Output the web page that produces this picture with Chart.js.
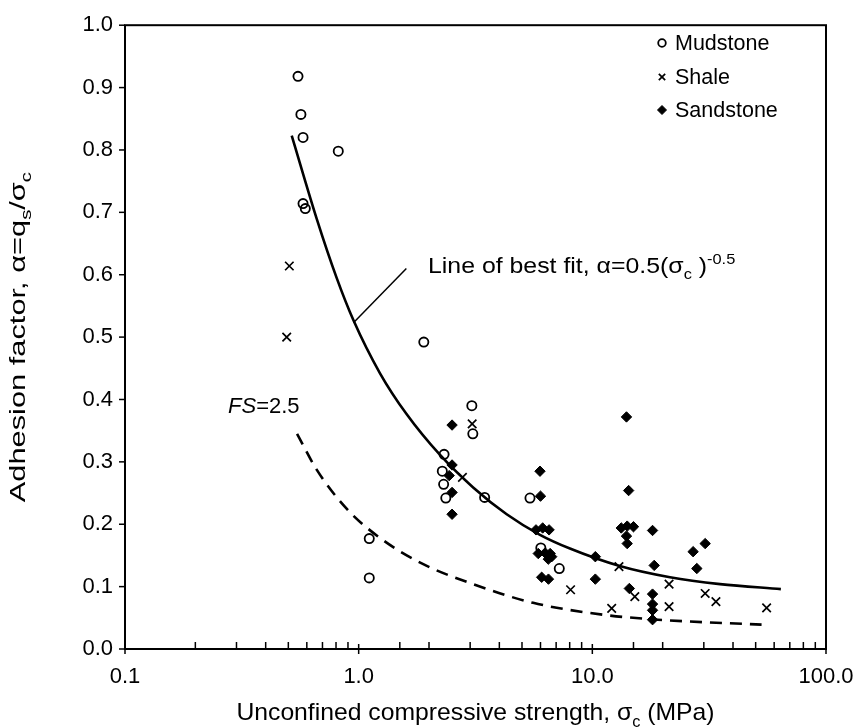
<!DOCTYPE html>
<html>
<head>
<meta charset="utf-8">
<script src="https://cdn.jsdelivr.net/npm/chart.js@4.4.1/dist/chart.umd.min.js"></script>
<style>
    html, body { margin: 0; padding: 0; background: #fff; }
</style>
</head>
<body>
<canvas id="chart" width="859" height="727"></canvas>
<script>
// values
const mudstoneX = [0.55, 0.566, 0.578, 0.818, 0.578, 0.591, 1.90, 3.05, 3.08, 2.32, 2.28, 2.31, 2.36, 3.46, 5.41, 1.11, 1.11, 6.02, 7.22]
const mudstoneY = [0.918, 0.857, 0.820, 0.798, 0.714, 0.706, 0.492, 0.390, 0.345, 0.312, 0.285, 0.264, 0.242, 0.243, 0.242, 0.177, 0.114, 0.162, 0.129]

const shaleX = [0.505, 0.492, 3.06, 2.78, 8.07, 13.0, 15.2, 12.1, 21.3, 21.3, 30.4, 33.8, 55.7]
const shaleY = [0.614, 0.500, 0.361, 0.275, 0.095, 0.132, 0.084, 0.065, 0.104, 0.068, 0.089, 0.076, 0.066]

const sandstoneX = [2.51, 2.51, 2.44, 2.51, 2.51, 5.97, 6.0, 5.74, 6.13, 6.53, 5.87, 6.28, 6.6, 6.48, 6.7, 6.07, 6.49,
    10.3, 10.3, 14.0, 14.3, 13.3, 14.1, 15.0, 14.0, 14.1, 18.1, 18.4, 14.4, 18.1, 18.1, 18.1, 18.1, 27.0, 30.4, 28.0]
const sandstoneY = [0.359, 0.295, 0.278, 0.251, 0.216, 0.285, 0.245, 0.191, 0.194, 0.191, 0.153, 0.154, 0.153, 0.144, 0.148, 0.115, 0.112,
    0.148, 0.112, 0.372, 0.254, 0.194, 0.197, 0.196, 0.181, 0.169, 0.190, 0.134, 0.097, 0.088, 0.072, 0.062, 0.047, 0.156, 0.169, 0.129]

// best fit curve and FS=2.5 curve
const fitX = [0.517, 0.661, 0.805, 0.95, 1.234, 1.60, 2.23, 3.09, 4.30, 5.97, 8.02, 13.1, 21.5, 35.2, 64.1]
const fitY = [0.823, 0.690, 0.595, 0.527, 0.442, 0.377, 0.311, 0.259, 0.216, 0.183, 0.161, 0.133, 0.115, 0.104, 0.096]

const fsX = [0.545, 0.66, 0.888, 1.234, 1.89, 3.09, 5.58, 11.1, 19.1, 53]
const fsY = [0.345, 0.288, 0.225, 0.178, 0.136, 0.104, 0.074, 0.055, 0.047, 0.039]

const xTickValues = [0.1, 1, 10, 100]
const xTickLabels = ['0.1', '1.0', '10.0', '100.0']

const FONT = '"Liberation Sans", Arial, sans-serif'

function points(xs, ys) {
    return xs.map((x, i) => ({ x: x, y: ys[i] }))
}

// text with subscripts / superscripts / italics, drawn piece by piece
function fontFor(mode, size) {
    if (mode === 'sub' || mode === 'sup') return `${size * 0.66}px ${FONT}`
    if (mode === 'it') return `italic ${size}px ${FONT}`
    return `${size}px ${FONT}`
}
function richWidth(ctx, parts, size) {
    let w = 0
    for (const [t, mode] of parts) {
        ctx.font = fontFor(mode, size)
        w += ctx.measureText(t).width
    }
    return w
}
function drawRich(ctx, parts, x, y, size) {
    let cx = x
    for (const [t, mode] of parts) {
        ctx.font = fontFor(mode, size)
        let dy = 0
        if (mode === 'sub') dy = size * 0.28
        if (mode === 'sup') dy = -size * 0.42
        ctx.fillText(t, cx, y + dy)
        cx += ctx.measureText(t).width
    }
}

const xTitle = [['Unconfined compressive strength, σ', ''], ['c', 'sub'], [' (MPa)', '']]
const yTitle = [['Adhesion factor, α=q', ''], ['s', 'sub'], ['/σ', ''], ['c', 'sub']]
const fitLabel = [['Line of best fit, α=0.5(σ', ''], ['c', 'sub'], [' )', ''], ['-0.5', 'sup']]
const fsLabel = [['FS', 'it'], ['=2.5', '']]

const legendItems = [
    { label: 'Mudstone', style: 'circle', radius: 3.8 },
    { label: 'Shale', style: 'crossRot', radius: 4.5 },
    { label: 'Sandstone', style: 'rectRot', radius: 4.5 },
]

const decorations = {
    id: 'decorations',
    afterDraw(chart) {
        const { ctx, chartArea: a, scales: { x, y } } = chart
        ctx.save()
        ctx.strokeStyle = '#000'
        ctx.fillStyle = '#000'

        // frame
        ctx.lineWidth = 2
        ctx.strokeRect(a.left, a.top, a.right - a.left, a.bottom - a.top)

        // x ticks: decades cross the axis, minor ticks inside
        ctx.lineWidth = 1.5
        for (const t of x.ticks) {
            const px = x.getPixelForValue(t.value)
            const major = xTickValues.some(v => Math.abs(v - t.value) < 1e-9)
            ctx.beginPath()
            if (major) {
                ctx.moveTo(px, a.bottom - 5)
                ctx.lineTo(px, a.bottom + 5)
            } else {
                ctx.moveTo(px, a.bottom - 7)
                ctx.lineTo(px, a.bottom)
            }
            ctx.stroke()
        }
        // y ticks outside
        for (const t of y.ticks) {
            const py = y.getPixelForValue(t.value)
            ctx.beginPath()
            ctx.moveTo(a.left - 6, py)
            ctx.lineTo(a.left, py)
            ctx.stroke()
        }

        // axis titles
        ctx.textBaseline = 'alphabetic'
        const tw = richWidth(ctx, xTitle, 24)
        ctx.save()
        ctx.translate((a.left + a.right) / 2, 720)
        ctx.scale(1.03, 1)
        drawRich(ctx, xTitle, -tw / 2, 0, 24)
        ctx.restore()

        ctx.save()
        ctx.translate(25, (a.top + a.bottom) / 2)
        ctx.rotate(-Math.PI / 2)
        ctx.scale(1.4, 1)
        const yw = richWidth(ctx, yTitle, 22)
        drawRich(ctx, yTitle, -yw / 2, 0, 22)
        ctx.restore()

        // annotation for the fit line
        ctx.lineWidth = 1.5
        ctx.beginPath()
        ctx.moveTo(x.getPixelForValue(0.95), y.getPixelForValue(0.523))
        ctx.lineTo(x.getPixelForValue(1.6), y.getPixelForValue(0.61))
        ctx.stroke()
        ctx.save()
        ctx.translate(x.getPixelForValue(1.98), y.getPixelForValue(0.603))
        ctx.scale(1.13, 1)
        drawRich(ctx, fitLabel, 0, 0, 22)
        ctx.restore()
        drawRich(ctx, fsLabel, x.getPixelForValue(0.276), y.getPixelForValue(0.378), 22)

        // legend
        const lx = 662, ly = [43, 77, 110]
        legendItems.forEach((item, i) => {
            const ds = chart.data.datasets[i]
            ctx.fillStyle = item.style === 'circle' ? '#fff' : '#000'
            ctx.strokeStyle = '#000'
            ctx.lineWidth = ds.borderWidth
            Chart.helpers.drawPoint(ctx, {
                pointStyle: item.style,
                radius: item.radius,
                borderWidth: ds.borderWidth,
                rotation: 0,
            }, lx, ly[i])
            ctx.fillStyle = '#000'
            ctx.font = `21.5px ${FONT}`
            ctx.textBaseline = 'middle'
            ctx.fillText(item.label, 675, ly[i] + 1)
        })
        ctx.restore()
    }
}

const canvas = document.getElementById('chart')

const chart = new Chart(canvas, {
    type: 'scatter',
    data: {
        datasets: [
            {
                label: 'Mudstone',
                data: points(mudstoneX, mudstoneY),
                pointStyle: 'circle',
                pointRadius: 4.6,
                borderWidth: 1.8,
                borderColor: '#000',
                backgroundColor: 'rgba(0,0,0,0)',
            },
            {
                label: 'Shale',
                data: points(shaleX, shaleY),
                pointStyle: 'crossRot',
                pointRadius: 6,
                borderWidth: 1.7,
                borderColor: '#000',
                backgroundColor: '#000',
            },
            {
                label: 'Sandstone',
                data: points(sandstoneX, sandstoneY),
                pointStyle: 'rectRot',
                pointRadius: 5.2,
                borderWidth: 1,
                borderColor: '#000',
                backgroundColor: '#000',
            },
            {
                label: 'Best fit',
                data: points(fitX, fitY),
                showLine: true,
                pointRadius: 0,
                borderColor: '#000',
                borderWidth: 2.6,
                cubicInterpolationMode: 'monotone',
            },
            {
                label: 'FS=2.5',
                data: points(fsX, fsY),
                showLine: true,
                pointRadius: 0,
                borderColor: '#000',
                borderWidth: 2.6,
                borderDash: [12, 8],
                cubicInterpolationMode: 'monotone',
            },
        ]
    },
    options: {
        responsive: false,
        animation: false,
        devicePixelRatio: 1,
        layout: {
            padding: { top: 21, right: 33, left: 0, bottom: 0 }
        },
        plugins: {
            legend: false,
            tooltip: false,
        },
        scales: {
            x: {
                type: 'logarithmic',
                min: 0.1,
                max: 100,
                grid: { display: false, drawTicks: false },
                border: { display: false },
                ticks: {
                    autoSkip: false,
                    maxRotation: 0,
                    padding: 15,
                    color: '#000',
                    font: { family: FONT, size: 22 },
                    callback: (v) => {
                        const i = xTickValues.findIndex(t => Math.abs(t - v) < 1e-9)
                        return i >= 0 ? xTickLabels[i] : ''
                    }
                },
                afterFit: (s) => {
                    s.height = 78
                    s.paddingLeft = 0
                    s.paddingRight = 0
                }
            },
            y: {
                min: 0,
                max: 1,
                grid: { display: false, drawTicks: false },
                border: { display: false },
                ticks: {
                    stepSize: 0.1,
                    padding: 12,
                    color: '#000',
                    font: { family: FONT, size: 22 },
                    callback: (v) => v.toFixed(1)
                },
                afterFit: (s) => { s.width = 125 }
            }
        }
    },
    plugins: [decorations]
});
</script>
</body>
</html>
